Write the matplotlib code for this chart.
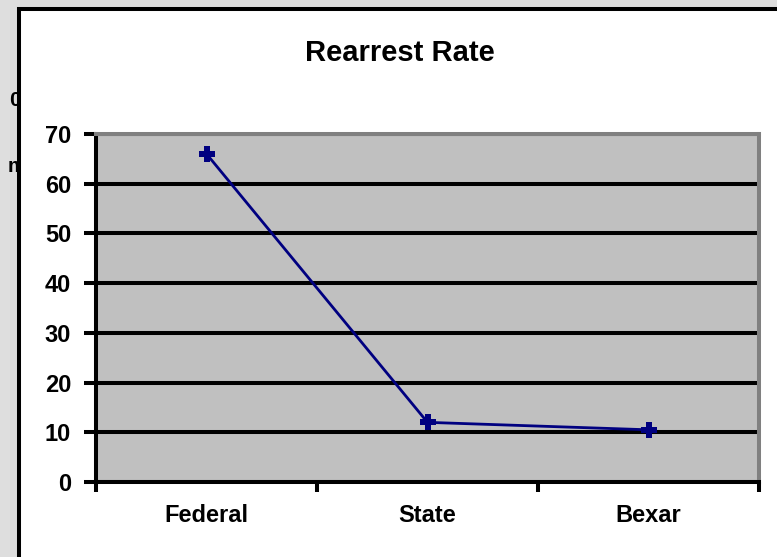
import numpy as np
import matplotlib.pyplot as plt
from matplotlib.patches import Rectangle

plt.rcParams['font.family'] = ['Liberation Sans', 'DejaVu Sans']

categories = ['Federal', 'State', 'Bexar']
rearrest_rate = [66, 12, 10.5]
y_ticks = [0, 10, 20, 30, 40, 50, 60, 70]

W, H = 777, 557
fig = plt.figure(figsize=(W / 100, H / 100), dpi=100)
fig.patch.set_facecolor('#dedede')

# cut-off text from the slide behind the chart
fig.text(26 / W, 1 - 100 / H, '0/', ha='right', va='center', fontsize=15, fontweight='bold', zorder=0)
fig.text(26 / W, 1 - 166 / H, 'm', ha='right', va='center', fontsize=15, fontweight='bold', zorder=0)

# white chart box with black border
fig.patches.append(Rectangle((19 / W, -0.1), 1.0, (H - 9) / H + 0.1, transform=fig.transFigure,
                             facecolor='white', edgecolor='black', linewidth=2.9, zorder=1))

ax = fig.add_axes([96 / W, 1 - 482 / H, (759 - 96) / W, (482 - 134) / H], zorder=2)
ax.set_facecolor('#c0c0c0')

x = np.arange(1, len(categories) + 1)
ax.plot(x, rearrest_rate, color='#000080', linewidth=2, marker='P', markersize=12,
        markeredgewidth=0, zorder=3)

ax.set_xlim(0.5, len(categories) + 0.5)
ax.set_ylim(0, 70)
ax.set_yticks(y_ticks)
ax.set_xticks(np.arange(0.5, len(categories) + 1, 1))
ax.set_xticklabels([])
ax.set_xticks(x, minor=True)
ax.set_xticklabels(categories, minor=True)

ax.grid(axis='y', color='black', linewidth=2.9)
ax.set_axisbelow(True)

for s in ['left', 'bottom']:
    ax.spines[s].set_color('black')
    ax.spines[s].set_linewidth(2.9)
for s in ['top', 'right']:
    ax.spines[s].set_color('#808080')
    ax.spines[s].set_linewidth(2.9)

ax.tick_params(axis='y', length=9, width=2.9, labelsize=17, pad=9)
ax.tick_params(axis='x', which='major', length=7, width=2.9)
ax.tick_params(axis='x', which='minor', length=0, labelsize=17, pad=16)
for lbl in ax.get_yticklabels() + ax.get_xticklabels(minor=True):
    lbl.set_fontweight('bold')

fig.text(400 / W, 1 - 53 / H, 'Rearrest Rate', ha='center', va='center',
         fontsize=21, fontweight='bold', zorder=3)

fig.savefig('out.png', dpi=100, facecolor=fig.get_facecolor())
